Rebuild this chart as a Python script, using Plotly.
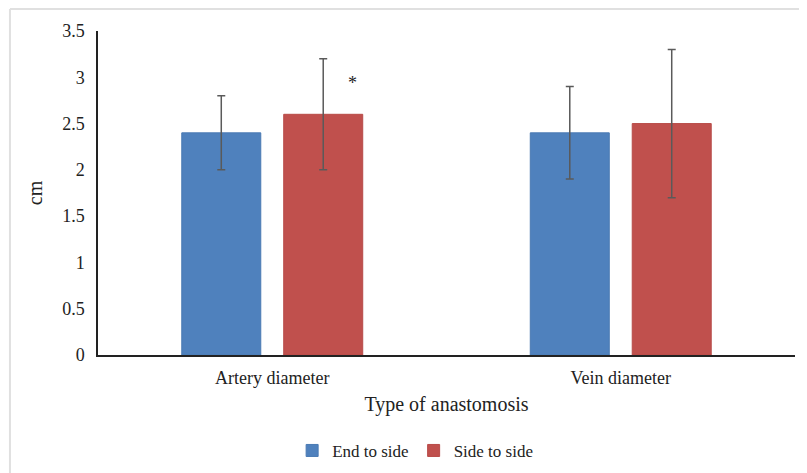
import plotly.graph_objects as go

categories = ["Artery diameter", "Vein diameter"]
end_to_side = [2.4, 2.4]
end_to_side_err = [0.4, 0.5]
side_to_side = [2.6, 2.5]
side_to_side_err = [0.6, 0.8]
y_ticks = [0, 0.5, 1, 1.5, 2, 2.5, 3, 3.5]
y_tick_labels = ["0", "0.5", "1", "1.5", "2", "2.5", "3", "3.5"]

FONT = "Liberation Serif"
ERR_COLOR = "#5a5a5a"

fig = go.Figure()
fig.add_trace(go.Bar(
    name="End to side", x=categories, y=end_to_side,
    marker=dict(color="#4F81BD", line=dict(color="#4a7ab3", width=1)),
    error_y=dict(type="data", array=end_to_side_err, visible=True,
                 color=ERR_COLOR, thickness=1.5, width=4),
))
fig.add_trace(go.Bar(
    name="Side to side", x=categories, y=side_to_side,
    marker=dict(color="#C0504D", line=dict(color="#b84b48", width=1)),
    error_y=dict(type="data", array=side_to_side_err, visible=True,
                 color=ERR_COLOR, thickness=1.5, width=4),
))

fig.add_annotation(x=categories[0], y=2.94, text="*", showarrow=False,
                   xshift=80, font=dict(family=FONT, size=18, color="#222"))

# outer light frame
fig.add_shape(type="line", xref="paper", yref="paper",
              x0=-0.1263, x1=1.1, y0=1.068, y1=1.068,
              line=dict(color="#e0e0e0", width=2))
fig.add_shape(type="line", xref="paper", yref="paper",
              x0=-0.1263, x1=-0.1263, y0=-0.5, y1=1.068,
              line=dict(color="#e0e0e0", width=2))

fig.update_layout(
    width=807, height=473,
    margin=dict(l=90, r=20, t=23, b=126, autoexpand=False),
    paper_bgcolor="white", plot_bgcolor="white",
    barmode="group", bargap=0.415, bargroupgap=0.225,
    font=dict(family=FONT, size=17, color="#222"),
    showlegend=True,
    legend=dict(orientation="h", x=0.455, xanchor="center", y=-0.296,
                yanchor="middle", font=dict(family=FONT, size=17, color="#222"),
                itemwidth=30, traceorder="normal"),
    xaxis=dict(
        showline=True, linecolor="#222", linewidth=1.5, automargin=False,
        ticks="", tickfont=dict(family=FONT, size=18, color="#222"),
        ticklabelstandoff=6,
        title=dict(text="Type of anastomosis", standoff=10,
                   font=dict(family=FONT, size=20, color="#222")),
    ),
    yaxis=dict(
        range=[0, 3.5], tickvals=y_ticks, ticktext=y_tick_labels,
        showline=True, linecolor="#222", linewidth=1.5, automargin=False,
        showgrid=False, zeroline=False, ticks="",
        tickfont=dict(family=FONT, size=18, color="#222"),
        ticklabelstandoff=8,
        title=dict(text="cm", standoff=14,
                   font=dict(family=FONT, size=20, color="#222")),
    ),
)

fig.write_html("out.html")
